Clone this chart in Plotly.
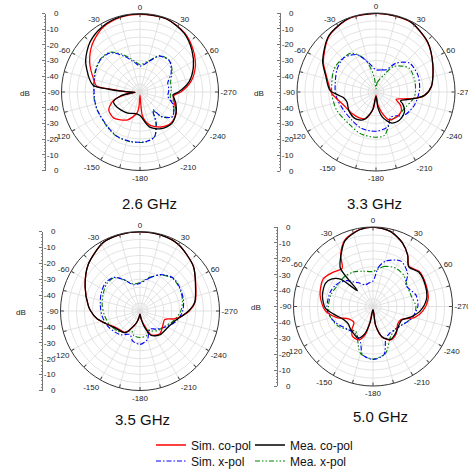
import plotly.graph_objects as go

W, H = 468, 472
FONT = "Arial, Liberation Sans, sans-serif"

# ---------------- data (angle deg clockwise from top, level dB) ----------------
# 2.6 GHz
A26_SIM_CO = [0, 20, 37, 51, 65, 78, 90, 95, 100, 108, 120, 135, 149, 164, 174, 180, 184, 188, 204, 225, 240, 251, 260, 266, 270, 273, 275, 278, 285, 300, 315, 330, 345, 360]
R26_SIM_CO = [-0.5, -0.5, -2.8, -6.6, -11.1, -16.7, -24, -28, -28.5, -27, -23.3, -22, -24, -28.2, -34.4, -48, -40.5, -36.5, -30.6, -26.5, -27, -31.5, -40, -47, -42, -38.5, -34, -22, -19.5, -13, -7, -2.5, -0.8, -0.5]
A26_MEA_CO = [0, 20, 37, 51, 65, 78, 90, 95, 100, 108, 120, 135, 150, 165, 180, 191, 210, 227, 243, 250, 258, 264, 268, 272, 275, 278, 285, 300, 315, 330, 345, 360]
R26_MEA_CO = [-0.3, -0.5, -3.2, -7.5, -12.5, -18, -25.5, -29, -28, -26, -23.5, -21.5, -23, -27, -35, -36, -34.5, -33.3, -32, -32, -37, -44, -47, -40, -30, -20, -16.5, -10, -5, -2, -0.5, -0.3]
A26_SIM_X = [0, 17, 28.5, 43.7, 58.5, 72, 85, 99, 111, 127, 139, 144, 153, 162, 173, 190, 207, 223, 247, 260, 277, 295, 310, 323, 336, 350, 360]
R26_SIM_X = [-33.5, -29.5, -24, -22.8, -26.7, -31.4, -31.5, -32, -27.5, -23.9, -29.5, -36, -27.6, -20, -18.2, -17.9, -18.2, -19.8, -20.5, -20.7, -20.5, -18.8, -17.5, -18.8, -25, -31, -33.5]
A26_MEA_X = A26_SIM_X
R26_MEA_X = [-32.5, -29, -23.5, -22.5, -26, -29.5, -30, -30.5, -27, -24, -29, -35, -27, -20, -18, -17.7, -18, -19.5, -20.5, -20.5, -20.3, -18.5, -17.2, -18.3, -24, -30, -32.5]

# 3.3 GHz
A33_SIM_CO = [0, 15, 27, 46, 64, 84, 94, 98, 104, 110, 118, 128, 142, 155, 165, 172, 180, 189, 201, 214, 228, 248, 268, 273, 288, 300, 320, 340, 360]
R33_SIM_CO = [-0.3, -0.4, -0.7, -4.7, -10, -14.7, -19.2, -23.3, -32, -36.5, -32.5, -29.8, -29.5, -30.6, -37, -42, -48, -39.4, -32, -30.5, -29.6, -27.9, -22, -21, -17, -11.5, -3.8, -0.5, -0.3]
A33_MEA_CO = [0, 15, 27, 46, 64, 84, 94, 98, 104, 110, 114, 125, 141, 154, 166, 173, 180, 191, 204, 218, 236, 251, 260, 272, 288, 300, 320, 340, 360]
R33_MEA_CO = [-0.2, -0.3, -0.6, -4.5, -10, -14.7, -19.2, -23.3, -30, -33.5, -31.5, -28, -26.8, -28.2, -33.8, -40, -47, -38.2, -30.8, -28.6, -29.2, -30.6, -29.2, -20.9, -16.5, -11, -3.5, -0.3, -0.2]
A33_SIM_X = [0, 15, 24, 35, 49, 68, 87, 109, 129, 149, 162, 180, 201, 220, 241, 261, 273, 300, 317, 333, 346, 360]
R33_SIM_X = [-36, -35.5, -34.6, -27.7, -22, -21.4, -22.4, -24.3, -26.8, -31.6, -26.7, -25.2, -25.2, -26.5, -26.5, -24.9, -24.1, -21.5, -20.3, -23.5, -31, -36]
A33_MEA_X = [0, 7, 25, 35, 54, 75, 97, 116, 138, 152, 169, 180, 200, 221, 245, 268, 298, 315, 328, 342, 353, 360]
R33_MEA_X = [-48, -44, -38, -30.2, -24.2, -24.4, -25.5, -28.8, -29.5, -29.7, -22, -21.4, -21.8, -23.5, -22.6, -22, -19.8, -20, -21, -28.6, -40.2, -48]

# 3.5 GHz
A35_SIM_CO = [0, 15, 30, 50, 65, 81, 90, 97, 103, 109, 122, 139, 155, 163, 172, 180, 188, 195, 202, 214, 236, 250, 260, 270, 276, 294, 312, 332, 346, 360]
R35_SIM_CO = [-0.2, -0.5, -1.7, -6.2, -11.3, -14.9, -19, -23.6, -28, -33.6, -33, -31, -33.4, -40.4, -45, -48, -46, -43, -40, -33.8, -31.5, -27, -22.4, -19, -17.3, -12.2, -6.2, -1.1, -0.3, -0.2]
A35_MEA_CO = [0, 15, 30, 50, 65, 81, 90, 97, 105, 115, 125, 140, 155, 165, 172, 180, 188, 195, 202, 214, 236, 250, 260, 270, 276, 294, 312, 332, 346, 360]
R35_MEA_CO = [-0.2, -0.5, -1.7, -6.2, -11.5, -15.2, -19.5, -23.5, -27, -29, -30, -30.5, -33, -40, -45, -48, -46, -43, -40, -33.5, -31, -27, -22.4, -19, -17.3, -12.2, -6.2, -1.1, -0.3, -0.2]
A35_SIM_X = [0, 16, 30, 45, 60, 76, 91, 108, 123, 138, 150, 157, 165, 180, 194, 203, 210, 218, 229, 246, 263, 278, 294, 309, 322, 333, 346, 360]
R35_SIM_X = [-32.5, -28.4, -23.6, -20.6, -21, -21.8, -23.3, -26.9, -31.4, -34.7, -37, -36, -31.6, -29, -30.6, -34, -33, -31, -29.5, -27.4, -25.9, -24.8, -23.2, -22, -23.2, -28, -33, -32.5]
A35_MEA_X = A35_SIM_X
R35_MEA_X = [-32, -28, -23.8, -21, -21.3, -22.5, -24.5, -28.5, -32, -33.5, -35.5, -37, -34, -33.3, -34, -36.5, -35.5, -33, -31, -29, -27.5, -26, -24.5, -23, -23.5, -28, -32.5, -32]

# 5.0 GHz
A50_SIM_CO = [0, 13, 25, 34, 42, 53, 68, 82, 95, 105, 115, 125, 140, 152, 163, 172, 180, 191, 195, 203, 215, 223, 230, 243, 253, 265, 282, 299, 311, 321, 328, 337, 350, 360]
R50_SIM_CO = [0, -1.5, -6, -11, -16.1, -13.5, -14, -15, -18.5, -23, -30.5, -31, -27.4, -26.2, -29.6, -37.8, -48, -40, -32, -27.2, -27.3, -30.7, -34.3, -32.8, -26.3, -19.8, -16, -14.2, -17, -19.1, -11.6, -4.6, -0.9, 0]
A50_MEA_CO = [0, 13, 25, 34, 42, 53, 68, 82, 95, 105, 115, 125, 140, 152, 163, 172, 180, 190, 197, 205, 215, 225, 235, 245, 259, 268, 282, 296, 304, 310, 315.6, 319.5, 328, 337, 350, 360]
R50_MEA_CO = [0, -1.5, -6, -11, -16.5, -14, -14.5, -16, -20, -25, -30, -30, -28, -26.5, -30, -38, -48, -40, -32, -28, -29, -30, -31, -30, -24.8, -20, -17.5, -16.7, -19, -23.3, -36, -18.4, -12, -5, -1, 0]
A50_SIM_X = [0, 8, 15.7, 31.6, 46.4, 57.3, 75.5, 90, 108, 124.5, 134.6, 150, 158.6, 167, 180, 192.7, 199, 212, 229, 247, 260.5, 270, 288.7, 299, 305, 315, 322, 330, 340, 350, 360]
R50_SIM_X = [-34, -25, -20.3, -16.5, -19.9, -25.3, -22, -21.8, -24.8, -28.7, -29.9, -30, -28, -19, -16.7, -19.2, -26, -29.5, -28.4, -24.3, -21.6, -21, -21.6, -22.8, -24, -27, -30.4, -33, -35.5, -35, -34]
A50_MEA_X = [0, 15, 30, 45, 60, 75, 90, 105, 120, 135, 150, 165, 180, 195, 205, 215, 225, 240, 255, 270, 285, 300, 315, 330, 345, 360]
R50_MEA_X = [-28, -24, -22, -22.5, -25, -25, -23, -24, -28, -30, -28, -19.5, -17, -19.5, -27, -31, -29, -25, -22.5, -22, -22.5, -24, -24, -25, -27, -28]

FREQ_LABELS = ["2.6 GHz", "3.3 GHz", "3.5 GHz", "5.0 GHz"]
SERIES_NAMES = ["Sim. co-pol", "Mea. co-pol", "Sim. x-pol", "Mea. x-pol"]
ANG_TICKS = list(range(0, 360, 15))
R_RANGE = [-50, 0]
DB_TICKVALS = [50, 40, 30, 20, 10, 0, -10, -20, -30, -40, -50]
DB_TICKTEXT = ["0", "-10", "-20", "-30", "-40", "", "-40", "-30", "-20", "-10", "0"]

DATA = [
    [(A26_SIM_CO, R26_SIM_CO), (A26_MEA_CO, R26_MEA_CO), (A26_SIM_X, R26_SIM_X), (A26_MEA_X, R26_MEA_X)],
    [(A33_SIM_CO, R33_SIM_CO), (A33_MEA_CO, R33_MEA_CO), (A33_SIM_X, R33_SIM_X), (A33_MEA_X, R33_MEA_X)],
    [(A35_SIM_CO, R35_SIM_CO), (A35_MEA_CO, R35_MEA_CO), (A35_SIM_X, R35_SIM_X), (A35_MEA_X, R35_MEA_X)],
    [(A50_SIM_CO, R50_SIM_CO), (A50_MEA_CO, R50_MEA_CO), (A50_SIM_X, R50_SIM_X), (A50_MEA_X, R50_MEA_X)],
]

# ---------------- styling / layout ----------------
STYLES = [
    dict(color="#ff0000", dash="solid", width=1.3),
    dict(color="#000000", dash="solid", width=1.3),
    dict(color="#0000ff", dash="5px,2px,1.5px,2px", width=1.1),
    dict(color="#008000", dash="5px,2px,1.5px,2px,1.5px,2px", width=1.1),
]
DRAW_ORDER = [3, 2, 0, 1]
LEGEND_IDS = ["legend", "legend2", "legend3", "legend4"]

# window-pixel positions: circle centres / radii, left dB axis x, labels
CENTERS = [(140, 92, 78.5), (376, 92, 79), (140, 311, 79.5), (373, 306.5, 79.5)]
AXIS_X = [46, 281, 43, 278]
DB_POS = [(25, 93), (259, 93), (21, 312), (256, 307)]
TITLE_POS = [(149, 204), (374, 204), (142.5, 419), (380, 416.5)]
LEG_POS = [(151, 430.5), (250, 430.5), (151, 446.5), (250, 446.5)]


def px(x):
    return x / W


def py(y):
    return 1 - y / H


def ang_label(v):
    if v % 30:
        return ""
    return str(v if v <= 60 else v - 360)


fig = go.Figure()
layout = dict(
    template="none",
    width=W, height=H, margin=dict(l=0, r=0, t=0, b=0, pad=0, autoexpand=False),
    paper_bgcolor="white", plot_bgcolor="white",
    font=dict(family=FONT, color="#222"),
)
annotations = []

for i in range(4):
    pid = "polar" if i == 0 else f"polar{i+1}"
    cx, cy, R = CENTERS[i]
    layout[pid] = dict(
        domain=dict(x=[px(cx - R), px(cx + R)], y=[py(cy + R), py(cy - R)]),
        bgcolor="white",
        radialaxis=dict(range=R_RANGE, tick0=0, dtick=5, showticklabels=False, ticks="",
                        showline=False, gridcolor="#dcdcdc", gridwidth=0.8),
        angularaxis=dict(direction="clockwise", rotation=90, tickmode="array",
                         tickvals=ANG_TICKS, ticktext=[ang_label(v) for v in ANG_TICKS],
                         showline=True, linecolor="#333333", linewidth=1,
                         gridcolor="#dcdcdc", gridwidth=0.8,
                         ticks="inside", ticklen=3, tickcolor="#444444",
                         tickfont=dict(size=8, color="#222", family=FONT)),
    )
    for k in DRAW_ORDER:
        th, rr = DATA[i][k]
        st = STYLES[k]
        fig.add_trace(go.Scatterpolar(
            theta=th, r=rr, subplot=pid, mode="lines", name=SERIES_NAMES[k],
            line=dict(color=st["color"], dash=st["dash"], width=st["width"], shape="spline", smoothing=0.8),
            showlegend=(i == 0), legend=LEGEND_IDS[k], hoverinfo="skip",
        ))

    # left dB scale (cartesian helper axis)
    xa = f"xaxis{i+1}" if i else "xaxis"
    ya = f"yaxis{i+1}" if i else "yaxis"
    xr = f"x{i+1}" if i else "x"
    yr = f"y{i+1}" if i else "y"
    ax_x = AXIS_X[i]
    layout[xa] = dict(domain=[px(ax_x), px(ax_x + 2)], visible=False, anchor=yr, range=[0, 1],
                      automargin=False)
    layout[ya] = dict(domain=[py(cy + R), py(cy - R)], anchor=xr, range=[-50, 50],
                      side="left", showline=True, linecolor="#777777", linewidth=1,
                      ticks="outside", ticklen=3, tickcolor="#777777", tickmode="array",
                      tickvals=DB_TICKVALS, ticktext=DB_TICKTEXT, showgrid=False, zeroline=False,
                      automargin=False, ticklabelstandoff=-18,
                      tickfont=dict(size=8, color="#222", family=FONT),
                      minor=dict(ticks="outside", ticklen=1.5, tickcolor="#888888", tick0=0, dtick=2, showgrid=False),
                      fixedrange=True)
    fig.add_trace(go.Scatter(x=[None], y=[None], xaxis=xr, yaxis=yr, showlegend=False, hoverinfo="skip"))

    dx, dy = DB_POS[i]
    annotations.append(dict(x=px(dx), y=py(dy), xref="paper", yref="paper", text="dB",
                            xanchor="center", yanchor="middle",
                            showarrow=False, font=dict(size=8, color="#222", family=FONT)))
    tx, ty = TITLE_POS[i]
    annotations.append(dict(x=px(tx), y=py(ty), xref="paper", yref="paper", text=FREQ_LABELS[i],
                            xanchor="center", yanchor="middle",
                            showarrow=False, font=dict(size=15, color="#111", family=FONT)))

for k, lid in enumerate(LEGEND_IDS):
    lx, ly = LEG_POS[k]
    layout[lid] = dict(x=px(lx), y=py(ly), xanchor="left", yanchor="top",
                       bgcolor="rgba(0,0,0,0)", borderwidth=0, itemwidth=30,
                       font=dict(size=12, color="#111", family=FONT))

layout["annotations"] = annotations
fig.update_layout(**layout)
# remove the browser's default 8px body margin so the figure starts at the window corner
fig.write_html("out.html", config={"displayModeBar": False, "staticPlot": True},
               post_script="document.body.style.margin='0';")
